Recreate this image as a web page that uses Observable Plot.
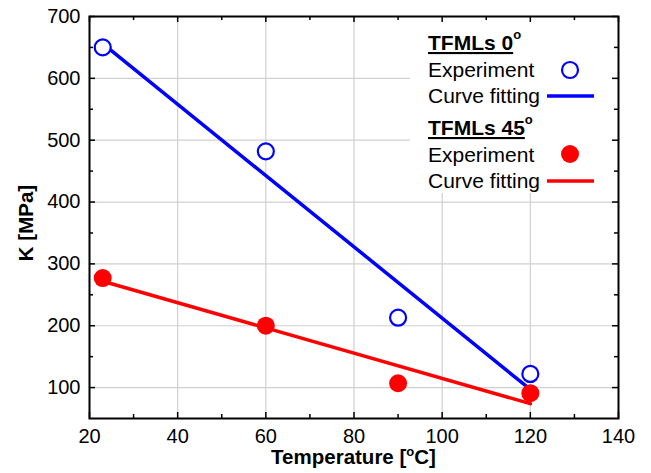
<!DOCTYPE html>
<html><head><meta charset="utf-8">
<script src="https://cdn.jsdelivr.net/npm/d3@7"></script>
<script src="https://cdn.jsdelivr.net/npm/@observablehq/plot@0.6"></script>
<style>body{margin:0;background:#fff} svg{display:block}</style>
</head><body><div id="chart"></div>
<script>
// Data
const temperature = [23, 60, 90, 120];
const k0 = [650, 482, 213, 122];      // TFMLs 0°, experiment
const k45 = [277, 200, 107, 91];      // TFMLs 45°, experiment
const fitT = [23, 120];
const fit0 = [656, 97];               // TFMLs 0°, curve fitting
const fit45 = [272, 74];              // TFMLs 45°, curve fitting
const xTicks = [20, 40, 60, 80, 100, 120, 140];
const xMinor = [30, 50, 70, 90, 110, 130];
const yTicks = [100, 200, 300, 400, 500, 600, 700];
const yMinor = [150, 250, 350, 450, 550, 650];
const legendGroups = ["TFMLs 0", "TFMLs 45"];
const legendRows = ["Experiment", "Curve fitting"];

const BLUE = "#0000ff", RED = "#ff0000";
const W = 651, H = 473, mL = 89, mR = 33, mT = 16, mB = 55;
const iW = W - mL - mR, iH = H - mT - mB;
const font = "'Liberation Sans', Arial, sans-serif";

const exp0 = temperature.map((t, i) => ({t, k: k0[i]}));
const exp45 = temperature.map((t, i) => ({t, k: k45[i]}));
const line0 = fitT.map((t, i) => ({t, k: fit0[i]}));
const line45 = fitT.map((t, i) => ({t, k: fit45[i]}));

const tickStyle = {stroke: "black", strokeWidth: 1.5};
const plot = Plot.plot({
  width: W, height: H,
  marginLeft: mL, marginRight: mR, marginTop: mT, marginBottom: mB,
  style: {fontFamily: font, fontSize: "20px", background: "white", color: "black"},
  x: {domain: [20, 140]},
  y: {domain: [50, 700]},
  marks: [
    Plot.gridX(xTicks, {stroke: "#d0d0d0", strokeOpacity: 1, strokeWidth: 1.2}),
    Plot.gridY(yTicks, {stroke: "#d0d0d0", strokeOpacity: 1, strokeWidth: 1.2}),
    Plot.line(line0, {x: "t", y: "k", stroke: BLUE, strokeWidth: 3.5}),
    Plot.line(line45, {x: "t", y: "k", stroke: RED, strokeWidth: 3.5}),
    Plot.dot(exp0, {x: "t", y: "k", r: 8, stroke: BLUE, strokeWidth: 2.2, fill: "white"}),
    Plot.dot(exp45, {x: "t", y: "k", r: 9, fill: RED, stroke: null}),
    // inward ticks on all four sides
    Plot.tickX(xTicks, {x: d => d, insetTop: iH - 6, ...tickStyle}),
    Plot.tickX(xMinor, {x: d => d, insetTop: iH - 4, ...tickStyle}),
    Plot.tickX(xTicks, {x: d => d, insetBottom: iH - 6, ...tickStyle}),
    Plot.tickX(xMinor, {x: d => d, insetBottom: iH - 4, ...tickStyle}),
    Plot.tickY(yTicks, {y: d => d, insetRight: iW - 6, ...tickStyle}),
    Plot.tickY(yMinor, {y: d => d, insetRight: iW - 4, ...tickStyle}),
    Plot.tickY(yTicks, {y: d => d, insetLeft: iW - 6, ...tickStyle}),
    Plot.tickY(yMinor, {y: d => d, insetLeft: iW - 4, ...tickStyle}),
    Plot.frame({stroke: "black", strokeWidth: 2}),
    Plot.axisX(xTicks, {tickSize: 0, tickPadding: 10, fontSize: 20, label: null}),
    Plot.axisY(yTicks, {tickSize: 0, tickPadding: 9, fontSize: 20, label: null})
  ]
});

const svg = d3.select(plot);
// white legend background covering the grid
svg.insert("rect", "g[aria-label='y-grid'] + *")
  .attr("x", 410).attr("y", mT + 1).attr("width", W - mR - 410 - 1).attr("height", 193 - mT - 1)
  .attr("fill", "white");

// axis titles
const xt = svg.append("text").attr("x", mL + iW / 2).attr("y", 464)
  .attr("text-anchor", "middle").attr("font-family", font).attr("font-size", 20.5).attr("font-weight", "bold");
xt.append("tspan").text("Temperature [");
xt.append("tspan").attr("dy", -8).attr("font-size", 13).text("o");
xt.append("tspan").attr("dy", 8).text("C]");

svg.append("text").attr("transform", `translate(33,${mT + iH / 2 + 6}) rotate(-90)`)
  .attr("text-anchor", "middle").attr("font-family", font).attr("font-size", 20.5).attr("font-weight", "bold")
  .text("K [MPa]");

// legend
const lg = svg.append("g").attr("font-family", font).attr("font-size", 21).attr("text-anchor", "start");
const colors = [BLUE, RED];
const groupY = [50, 135];
legendGroups.forEach((g, gi) => {
  const y0 = groupY[gi];
  const h = lg.append("text").attr("x", 428).attr("y", y0).attr("font-weight", "bold");
  h.append("tspan").attr("text-decoration", "underline").text(g);
  h.append("tspan").attr("dy", -11).attr("font-size", 13).text("o");
  lg.append("text").attr("x", 428).attr("y", y0 + 27).text(legendRows[0]);
  lg.append("text").attr("x", 428).attr("y", y0 + 53).text(legendRows[1]);
  if (gi === 0) {
    lg.append("circle").attr("cx", 570).attr("cy", y0 + 20).attr("r", 8)
      .attr("fill", "white").attr("stroke", colors[gi]).attr("stroke-width", 2.2);
  } else {
    lg.append("circle").attr("cx", 570).attr("cy", y0 + 19).attr("r", 9).attr("fill", colors[gi]);
  }
  lg.append("line").attr("x1", 547).attr("x2", 594).attr("y1", y0 + 46).attr("y2", y0 + 46)
    .attr("stroke", colors[gi]).attr("stroke-width", 3.5);
});

document.getElementById("chart").appendChild(plot);
</script></body></html>
